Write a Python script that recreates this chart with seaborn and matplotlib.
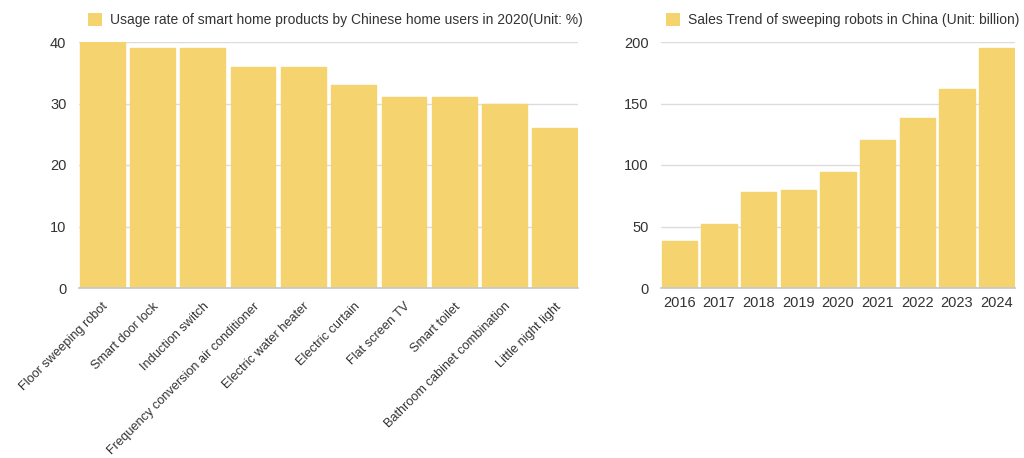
import matplotlib
matplotlib.use("Agg")
import matplotlib.pyplot as plt
import seaborn as sns
import pandas as pd
from matplotlib.patches import Patch

products = ["Floor sweeping robot", "Smart door lock", "Induction switch",
            "Frequency conversion air conditioner", "Electric water heater",
            "Electric curtain", "Flat screen TV", "Smart toilet",
            "Bathroom cabinet combination", "Little night light"]
usage = [40, 39, 39, 36, 36, 33, 31, 31, 30, 26]
years = ["2016", "2017", "2018", "2019", "2020", "2021", "2022", "2023", "2024"]
sales = [38, 52, 78, 80, 94, 120, 138, 162, 195]
left_title = "Usage rate of smart home products by Chinese home users in 2020(Unit: %)"
right_title = "Sales Trend of sweeping robots in China (Unit: billion)"

sns.set_theme(style="white")
plt.rcParams['font.family'] = ['Liberation Sans', 'DejaVu Sans']
BAR = "#F5D470"
GRID = "#DCDCDC"
TXT = "#333333"

fig = plt.figure(figsize=(10.24, 4.58), dpi=100)
ax1 = fig.add_axes([79/1024, 170/458, 499/1024, 246/458])
ax2 = fig.add_axes([661/1024, 170/458, 354/1024, 246/458])

df1 = pd.DataFrame({"p": products, "v": usage})
df2 = pd.DataFrame({"y": years, "v": sales})
sns.barplot(data=df1, x="p", y="v", color=BAR, width=0.89, ax=ax1, saturation=1,
            edgecolor=BAR, linewidth=1)
sns.barplot(data=df2, x="y", y="v", color=BAR, width=0.89, ax=ax2, saturation=1,
            edgecolor=BAR, linewidth=1)

for ax, top, step, title, lx in [(ax1, 40, 10, left_title, 0.018), (ax2, 200, 50, right_title, 0.014)]:
    for p in ax.patches:
        p.set_joinstyle("round")
    ax.set_ylim(0, top)
    ax.set_yticks(range(0, top + 1, step))
    n = len(ax.patches)
    ax.set_xlim(-0.46, n - 1 + 0.46)
    ax.yaxis.grid(True, color=GRID, linewidth=1)
    ax.set_axisbelow(True)
    for s in ["top", "right", "left"]:
        ax.spines[s].set_visible(False)
    ax.spines["bottom"].set_color("#C8C8C8")
    ax.spines["bottom"].set_zorder(3)
    ax.set_xlabel("")
    ax.set_ylabel("")
    ax.tick_params(axis="y", length=0, pad=9, labelsize=10.5, labelcolor=TXT)
    ax.tick_params(axis="x", length=0, labelcolor=TXT)
    ax.legend(handles=[Patch(facecolor=BAR, edgecolor="none", label=title)],
              loc="lower left", bbox_to_anchor=(lx, 1.06), frameon=False,
              fontsize=10, handlelength=1.0, handleheight=1.0, handletextpad=0.6,
              borderaxespad=0, borderpad=0, labelcolor=TXT)

ax1.set_xticks(range(len(products)))
ax1.set_xticklabels(products, rotation=45, ha="right", rotation_mode="anchor", fontsize=9.2)
ax1.tick_params(axis="x", pad=9)
ax2.tick_params(axis="x", labelsize=10.5, pad=6)

fig.savefig("out.png", dpi=100, facecolor="white")
